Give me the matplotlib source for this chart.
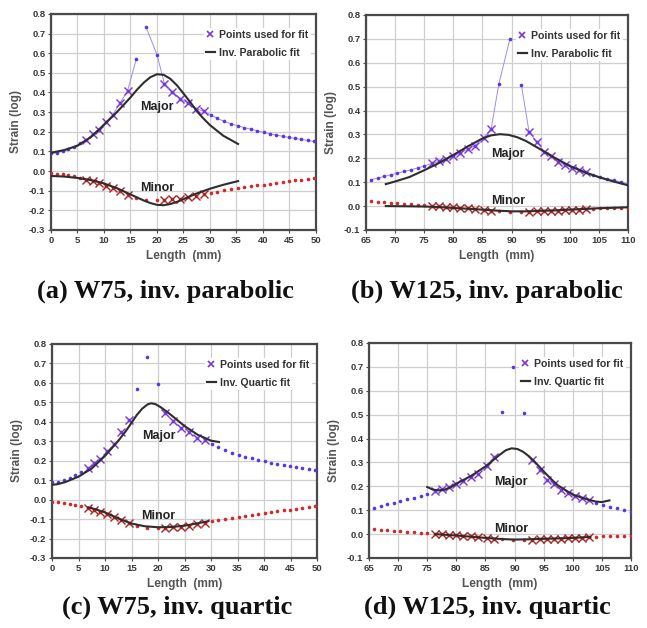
import matplotlib
matplotlib.use('Agg')
import matplotlib.pyplot as plt
from matplotlib.lines import Line2D

# ---- W75 specimen: strain readings along the gauge length ----
w75_x = [0.0, 1.1, 2.2, 3.3, 4.4, 5.55, 6.7, 7.9, 9.1, 10.35, 11.65, 13.0, 14.45, 16.1,
         17.9, 20.0, 21.4, 22.9, 24.4, 25.9, 27.3, 28.8, 30.1, 31.4, 32.7, 34.0,
         35.2, 36.5, 37.7, 38.9, 40.1, 41.3, 42.5, 43.7, 44.9, 46.1, 47.2, 48.4, 49.6]
w75_major = [0.090, 0.093, 0.100, 0.110, 0.125, 0.142, 0.160, 0.188, 0.210, 0.250,
             0.285, 0.345, 0.408, 0.570, 0.735, 0.593, 0.445, 0.405, 0.368, 0.345,
             0.318, 0.305, 0.287, 0.268, 0.253, 0.240, 0.231, 0.221, 0.213, 0.205,
             0.197, 0.190, 0.183, 0.177, 0.171, 0.166, 0.161, 0.156, 0.151]
w75_minor = [-0.012, -0.014, -0.017, -0.021, -0.027, -0.034, -0.043, -0.052, -0.062,
             -0.074, -0.088, -0.103, -0.122, -0.138, -0.147, -0.148, -0.145, -0.143,
             -0.140, -0.134, -0.127, -0.119, -0.111, -0.105, -0.099, -0.093, -0.088,
             -0.083, -0.078, -0.073, -0.069, -0.064, -0.060, -0.055, -0.051, -0.047,
             -0.043, -0.039, -0.035]
w75_fit_idx = list(range(6, 13)) + list(range(16, 22))
w75_break = 14   # no reading between 16.1 and 17.9 mm

# ---- W125 specimen ----
w125_x = [65.8, 67.0, 68.1, 69.3, 70.4, 71.6, 72.7, 73.9, 75.0, 76.4, 77.6, 78.8,
          79.9, 81.2, 82.5, 83.7, 85.2, 86.5, 87.8, 89.7, 91.7, 93.0, 94.3, 95.6,
          96.8, 98.0, 99.2, 100.4, 101.6, 102.8, 104.0, 105.2, 106.4, 107.6, 108.8, 110.0]
w125_major = [0.110, 0.117, 0.124, 0.131, 0.138, 0.145, 0.152, 0.160, 0.168, 0.179,
              0.187, 0.196, 0.208, 0.222, 0.238, 0.253, 0.287, 0.323, 0.510, 0.698,
              0.505, 0.311, 0.270, 0.228, 0.208, 0.184, 0.172, 0.161, 0.152, 0.142,
              0.131, 0.122, 0.114, 0.108, 0.100, 0.093]
w125_minor = [0.020, 0.018, 0.016, 0.014, 0.012, 0.010, 0.008, 0.006, 0.004, 0.001,
              -0.001, -0.003, -0.005, -0.007, -0.010, -0.013, -0.016, -0.019, -0.021,
              -0.023, -0.023, -0.023, -0.022, -0.021, -0.020, -0.019, -0.018, -0.017,
              -0.015, -0.013, -0.012, -0.010, -0.009, -0.008, -0.007, -0.006]
w125_fit_idx = list(range(9, 18)) + list(range(21, 30))
w125_break = 20  # no reading between 89.7 and 91.7 mm

# ---- fitted curves ----
fit_a_major_x = [0.0, 2.5, 5.0, 7.5, 10.0, 12.5, 15.0, 16.25, 17.5, 18.75, 20.0, 21.25,
                 22.5, 23.75, 25.0, 26.25, 27.5, 28.75, 30.0, 32.5, 35.3]
fit_a_major_y = [0.093, 0.107, 0.129, 0.172, 0.236, 0.302, 0.375, 0.415, 0.450, 0.478,
                 0.493, 0.490, 0.470, 0.437, 0.395, 0.352, 0.305, 0.268, 0.234, 0.180, 0.138]
fit_a_minor_x = [0.0, 2.5, 5.0, 7.5, 10.0, 12.5, 15.0, 17.5, 18.75, 20.0, 21.25, 22.5,
                 23.75, 25.0, 27.5, 30.0, 32.5, 35.3]
fit_a_minor_y = [-0.025, -0.028, -0.035, -0.046, -0.063, -0.088, -0.119, -0.150, -0.163,
                 -0.172, -0.174, -0.168, -0.157, -0.143, -0.114, -0.090, -0.070, -0.051]

fit_b_major_x = [68.4, 70.0, 72.5, 75.0, 77.5, 80.0, 82.5, 85.0, 86.5, 88.0, 89.5, 91.0,
                 92.5, 95.0, 97.5, 100.0, 102.5, 105.0, 107.5, 110.0]
fit_b_major_y = [0.092, 0.103, 0.122, 0.150, 0.180, 0.214, 0.250, 0.283, 0.296, 0.301,
                 0.298, 0.288, 0.272, 0.237, 0.201, 0.168, 0.142, 0.121, 0.103, 0.087]
fit_b_minor_x = [68.4, 72.5, 75.0, 77.5, 80.0, 82.5, 85.0, 87.5, 90.0, 92.5, 95.0, 97.5,
                 100.0, 102.5, 105.0, 107.5, 110.0]
fit_b_minor_y = [0.000, -0.001, -0.002, -0.004, -0.008, -0.011, -0.015, -0.019, -0.022,
                 -0.022, -0.020, -0.018, -0.015, -0.012, -0.009, -0.007, -0.005]

fit_c_major_x = [0.0, 1.0, 2.5, 5.0, 7.5, 10.0, 12.5, 14.0, 15.0, 16.0, 17.0, 18.0, 18.7,
                 19.5, 20.5, 21.5, 22.5, 25.0, 27.5, 30.0, 31.5]
fit_c_major_y = [0.076, 0.079, 0.090, 0.118, 0.160, 0.225, 0.302, 0.355, 0.395, 0.435,
                 0.467, 0.489, 0.495, 0.491, 0.475, 0.455, 0.434, 0.378, 0.333, 0.303, 0.296]
fit_c_minor_x = [6.8, 8.0, 10.0, 12.5, 15.0, 17.5, 20.0, 22.5, 25.0, 27.5, 29.5]
fit_c_minor_y = [-0.040, -0.048, -0.066, -0.097, -0.123, -0.137, -0.142, -0.141, -0.134,
                 -0.122, -0.111]

fit_d_major_x = [75.0, 76.0, 77.0, 78.0, 79.0, 80.0, 82.5, 85.0, 86.5, 87.5, 88.5, 89.5,
                 90.5, 91.5, 92.5, 93.5, 95.0, 96.5, 97.5, 100.0, 102.5, 104.0, 105.0, 106.3]
fit_d_major_y = [0.197, 0.186, 0.183, 0.186, 0.196, 0.211, 0.243, 0.283, 0.313, 0.333,
                 0.351, 0.359, 0.356, 0.344, 0.325, 0.302, 0.262, 0.225, 0.203, 0.165,
                 0.145, 0.136, 0.134, 0.141]
fit_d_minor_x = [76.4, 80.0, 85.0, 88.0, 90.0, 92.0, 95.0, 100.0, 103.0]
fit_d_minor_y = [0.000, -0.006, -0.016, -0.021, -0.023, -0.022, -0.020, -0.016, -0.012]

captions = ['(a) W75, inv. parabolic', '(b) W125, inv. parabolic',
            '(c) W75, inv. quartic', '(d) W125, inv. quartic']

MAJ_DOT = '#5a35e8'
MAJ_X = '#7a35de'
MAJ_LINE = '#a48af0'
MIN_DOT = '#d02a2a'
MIN_X = '#b02222'
FIT = '#2e2e2e'
SANS = 'Liberation Sans'


def draw_panel(ax, x, major, minor, fit_idx, brk, fits, xlim, xticks, ylim,
               fit_name, connect, lbl_x, major_y, minor_y):
    if connect:
        ax.plot(x[:brk], major[:brk], color=MAJ_LINE, lw=0.7, zorder=2)
        ax.plot(x[brk:], major[brk:], color=MAJ_LINE, lw=0.7, zorder=2)
    ax.plot(x, major, 'o', color=MAJ_DOT, ms=2.6, mew=0, zorder=3)
    ax.plot(x, minor, 'o', color=MIN_DOT, ms=2.6, mew=0, zorder=3)
    ax.plot([x[i] for i in fit_idx], [major[i] for i in fit_idx], 'x',
            color=MAJ_X, ms=5.5, mew=1.0, zorder=4)
    ax.plot([x[i] for i in fit_idx], [minor[i] for i in fit_idx], 'x',
            color=MIN_X, ms=5.5, mew=1.0, zorder=4)
    for fx, fy in fits:
        ax.plot(fx, fy, color=FIT, lw=1.5, zorder=5)

    ax.text(lbl_x, major_y, 'Major', ha='center', va='center', fontsize=9,
            fontweight='bold', family=SANS, color='#222222', zorder=6)
    ax.text(lbl_x, minor_y, 'Minor', ha='center', va='center', fontsize=9,
            fontweight='bold', family=SANS, color='#222222', zorder=6)

    ax.set_xlim(xlim)
    ax.set_ylim(ylim)
    ax.set_xticks(xticks)
    yt = [round(ylim[0] + 0.1 * k, 1) for k in range(int(round((ylim[1] - ylim[0]) / 0.1)) + 1)]
    ax.set_yticks(yt)
    ax.set_yticklabels([f'{v:.1f}' for v in yt])
    ax.grid(True, color='#cfcfcf', lw=0.9, zorder=0)
    ax.set_axisbelow(True)
    for s in ax.spines.values():
        s.set_color('#4a4a4a')
        s.set_linewidth(1.6)
    ax.tick_params(length=2, width=0.8, color='#4a4a4a', pad=2, labelsize=6.8,
                   labelcolor='#3a3a3a')
    for t in ax.get_xticklabels() + ax.get_yticklabels():
        t.set_fontweight('bold')
        t.set_family(SANS)
    ax.set_xlabel('Length  (mm)', fontsize=8.6, fontweight='bold', family=SANS,
                  color='#555555', labelpad=4)
    ax.set_ylabel('Strain (log)', fontsize=8.6, fontweight='bold', family=SANS,
                  color='#555555', labelpad=5)

    handles = [Line2D([], [], ls='none', marker='x', color=MAJ_X, ms=5, mew=1.2),
               Line2D([], [], color=FIT, lw=1.6)]
    leg = ax.legend(handles, ['Points used for fit', fit_name], loc='upper right',
                    bbox_to_anchor=(1.0, 0.96), frameon=True, fancybox=False,
                    framealpha=1, edgecolor='none', handlelength=0.9,
                    handletextpad=0.4, borderpad=0.2, labelspacing=0.75,
                    prop={'family': SANS, 'weight': 'bold', 'size': 7.6})
    for t in leg.get_texts():
        t.set_color('#333333')


fig = plt.figure(figsize=(6.47, 6.28), dpi=100)
fig.patch.set_facecolor('white')

ax_a = fig.add_axes([0.0788, 0.6338, 0.4096, 0.3440])
ax_b = fig.add_axes([0.5657, 0.6338, 0.4050, 0.3424])
ax_c = fig.add_axes([0.0804, 0.1115, 0.4096, 0.3408])
ax_d = fig.add_axes([0.5703, 0.1115, 0.4050, 0.3424])

draw_panel(ax_a, w75_x, w75_major, w75_minor, w75_fit_idx, w75_break,
           [(fit_a_major_x, fit_a_major_y), (fit_a_minor_x, fit_a_minor_y)],
           (0, 50), range(0, 51, 5), (-0.3, 0.8), 'Inv. Parabolic fit', True,
           20.0, 0.324, -0.085)
draw_panel(ax_b, w125_x, w125_major, w125_minor, w125_fit_idx, w125_break,
           [(fit_b_major_x, fit_b_major_y), (fit_b_minor_x, fit_b_minor_y)],
           (65, 110), range(65, 111, 5), (-0.1, 0.8), 'Inv. Parabolic fit', True,
           89.4, 0.220, 0.021)
draw_panel(ax_c, w75_x, w75_major, w75_minor, w75_fit_idx, w75_break,
           [(fit_c_major_x, fit_c_major_y), (fit_c_minor_x, fit_c_minor_y)],
           (0, 50), range(0, 51, 5), (-0.3, 0.8), 'Inv. Quartic fit', False,
           20.1, 0.328, -0.086)
draw_panel(ax_d, w125_x, w125_major, w125_minor, w125_fit_idx, w125_break,
           [(fit_d_major_x, fit_d_major_y), (fit_d_minor_x, fit_d_minor_y)],
           (65, 110), range(65, 111, 5), (-0.1, 0.8), 'Inv. Quartic fit', False,
           89.4, 0.220, 0.022)

# sub-figure captions (pixel centres converted to figure fractions)
cap_pos = [(165, 291), (487, 291), (177, 607), (487, 607)]
for (cx, cy), cap in zip(cap_pos, captions):
    fig.text(cx / 647, 1 - cy / 628, cap, ha='center', va='center', fontsize=19,
             fontweight='bold', family='Liberation Serif', color='#111111')

fig.savefig('out.png', dpi=100)
